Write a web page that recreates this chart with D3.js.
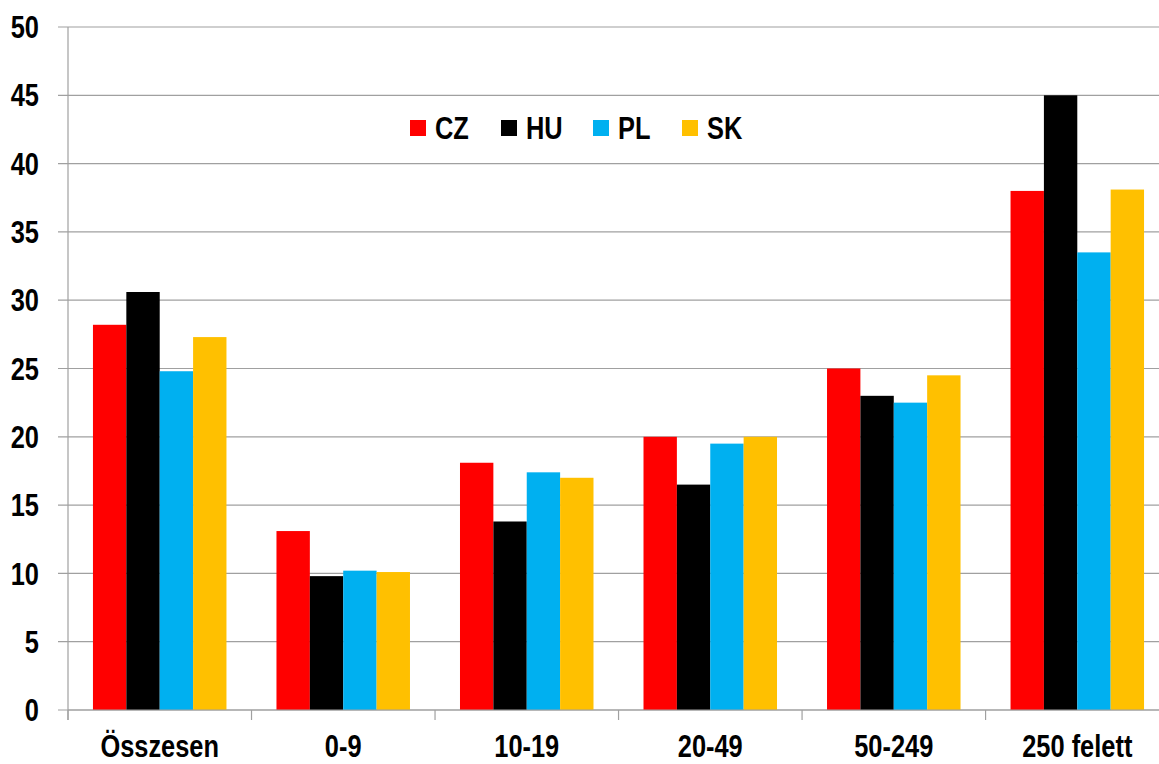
<!DOCTYPE html>
<html>
<head>
<meta charset="utf-8">
<script src="https://cdn.jsdelivr.net/npm/d3@7"></script>
<style>
  body { margin: 0; background: #fff; }
  svg text { font-family: "Liberation Sans Narrow", "Arial Narrow", "Liberation Sans", Arial, sans-serif; font-weight: bold; fill: #000; }
</style>
</head>
<body>
<div id="chart"></div>
<script>
// size categories (employees)
const categories = ["Összesen", "0-9", "10-19", "20-49", "50-249", "250 felett"];
const countries = ["CZ", "HU", "PL", "SK"];
const colors = ["#ff0000", "#000000", "#00b0f0", "#ffc000"];

// values per country, in category order
const CZ = [28.2, 13.1, 18.1, 20.0, 25.0, 38.0];
const HU = [30.6, 9.8, 13.8, 16.5, 23.0, 45.0];
const PL = [24.8, 10.2, 17.4, 19.5, 22.5, 33.5];
const SK = [27.3, 10.1, 17.0, 20.0, 24.5, 38.1];
const seriesValues = [CZ, HU, PL, SK];

const yTicks = [0, 5, 10, 15, 20, 25, 30, 35, 40, 45, 50];

const width = 1159, height = 764;
const margin = { left: 68, top: 27, bottom: 54 };
// the plot runs a little past the right edge of the picture
const plotRight = 1169;
const fontSize = 31;
const narrow = 0.82; // squeeze regular font to look like a narrow face

const svg = d3.select("#chart").append("svg")
    .attr("width", width)
    .attr("height", height);

const x = d3.scaleBand()
    .domain(categories)
    .range([margin.left, plotRight])
    .paddingInner(0.2725)
    .paddingOuter(0.136);

const x1 = d3.scaleBand()
    .domain(countries)
    .range([0, x.bandwidth()]);

const y = d3.scaleLinear()
    .domain([0, 50])
    .range([height - margin.bottom, margin.top]);

// gridlines + left ticks
svg.append("g")
    .selectAll("line")
    .data(yTicks)
    .join("line")
    .attr("x1", margin.left - 10)
    .attr("x2", plotRight)
    .attr("y1", d => y(d))
    .attr("y2", d => y(d))
    .attr("stroke", "#a0a0a0")
    .attr("stroke-width", 1.2);

// y labels
svg.append("g")
    .selectAll("text")
    .data(yTicks)
    .join("text")
    .attr("transform", d => `translate(39,${y(d)}) scale(${narrow},1)`)
    .attr("dy", "0.36em")
    .attr("text-anchor", "end")
    .attr("font-size", fontSize)
    .text(d => d);

// bars
const groups = svg.append("g")
    .selectAll("g")
    .data(categories)
    .join("g")
    .attr("transform", d => `translate(${x(d)},0)`);

groups.selectAll("rect")
    .data((d, i) => countries.map((c, j) => ({ c, j, v: seriesValues[j][i] })))
    .join("rect")
    .attr("x", d => x1(d.c))
    .attr("width", x1.bandwidth())
    .attr("y", d => y(d.v))
    .attr("height", d => y(0) - y(d.v))
    .attr("fill", d => colors[d.j]);

// y axis line
svg.append("line")
    .attr("x1", margin.left).attr("x2", margin.left)
    .attr("y1", y(50)).attr("y2", y(0) + 10)
    .attr("stroke", "#a0a0a0")
    .attr("stroke-width", 1.2);

// x axis line over bars
svg.append("line")
    .attr("x1", margin.left).attr("x2", plotRight)
    .attr("y1", y(0)).attr("y2", y(0))
    .attr("stroke", "#a0a0a0")
    .attr("stroke-width", 1.2);

// category separators below axis
const step = x.step();
svg.append("g")
    .selectAll("line")
    .data(d3.range(categories.length + 1))
    .join("line")
    .attr("x1", i => margin.left + i * step)
    .attr("x2", i => margin.left + i * step)
    .attr("y1", y(0))
    .attr("y2", y(0) + 10)
    .attr("stroke", "#a0a0a0")
    .attr("stroke-width", 1.2);

// x labels
svg.append("g")
    .selectAll("text")
    .data(categories)
    .join("text")
    .attr("transform", d => `translate(${x(d) + x.bandwidth() / 2},757) scale(${narrow},1)`)
    .attr("text-anchor", "middle")
    .attr("font-size", fontSize)
    .text(d => d);

// legend
const legendX = [410, 501, 593, 682];
const legend = svg.append("g")
    .selectAll("g")
    .data(countries)
    .join("g")
    .attr("transform", (d, i) => `translate(${legendX[i]},120)`);

legend.append("rect")
    .attr("width", 16)
    .attr("height", 16)
    .attr("fill", (d, i) => colors[i]);

legend.append("text")
    .attr("transform", `translate(25,18.5) scale(${narrow},1)`)
    .attr("font-size", fontSize)
    .text(d => d);
</script>
</body>
</html>
